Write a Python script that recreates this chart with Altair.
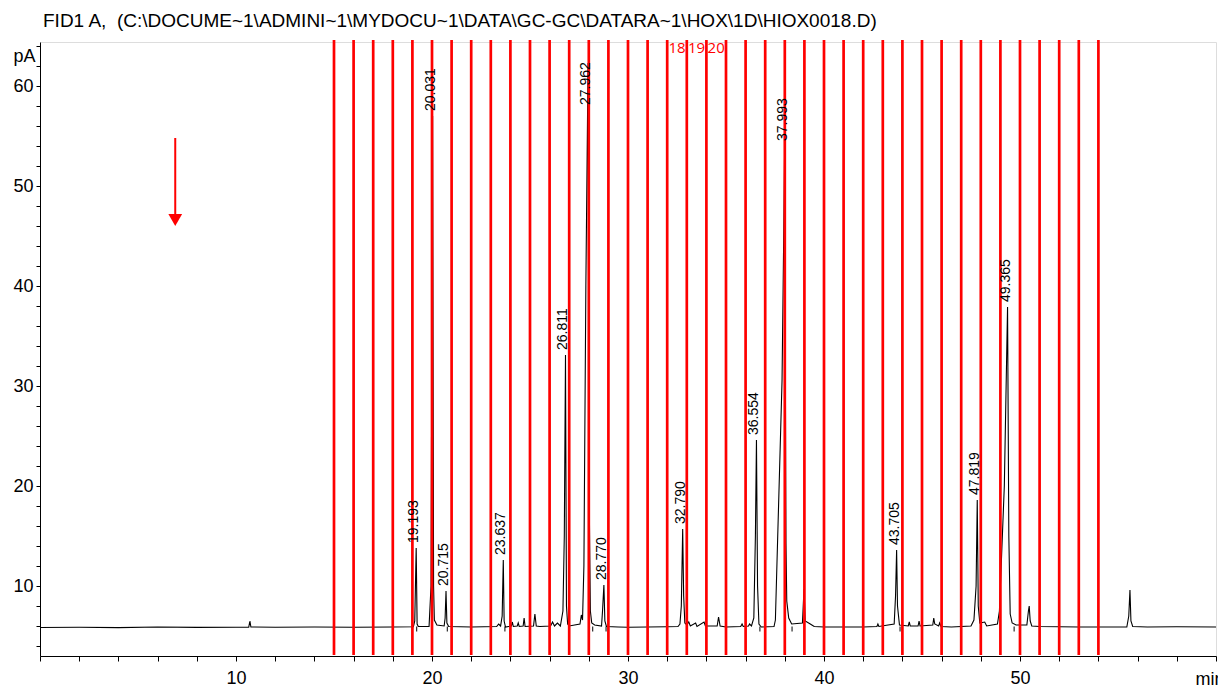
import altair as alt
import pandas as pd

# ---- chromatogram: vertices of the FID trace (time in min, signal in pA) ----
trace_time = [
    0.0, 2.0, 4.0, 6.0, 8.0, 10.0, 10.65, 10.71, 10.76, 12.0, 14.0, 16.0, 18.0,
    19.05, 19.12, 19.24, 19.30, 19.85, 19.95, 20.08, 20.12, 20.25, 20.62, 20.67,
    20.76, 20.85, 22.0, 23.30, 23.40, 23.50, 23.58, 23.68, 23.75, 24.05, 24.10,
    24.15, 24.35, 24.40, 24.45, 24.65, 24.70, 24.75, 25.18, 25.25, 25.32, 25.50,
    26.05, 26.15, 26.25, 26.40, 26.55, 26.68, 26.75, 26.86, 26.92, 27.00, 27.55,
    27.62, 27.68, 27.75, 27.85, 28.00, 28.02, 28.08, 28.15, 28.30, 28.65, 28.70,
    28.82, 28.90, 29.50, 30.0, 31.0, 32.0, 32.55, 32.65, 32.72, 32.84, 32.90,
    33.00, 33.10, 33.18, 33.45, 33.52, 33.88, 33.95, 34.55, 34.62, 34.70, 35.0,
    35.75, 35.82, 35.88, 36.15, 36.20, 36.30, 36.42, 36.50, 36.61, 36.68, 36.80,
    37.45, 37.52, 37.86, 37.95, 38.03, 38.06, 38.10, 38.20, 38.35, 38.90, 38.98,
    39.04, 39.30, 39.50, 40.0, 42.0, 42.70, 42.75, 42.80, 43.58, 43.65, 43.75,
    43.85, 44.30, 44.35, 44.40, 44.80, 44.85, 44.90, 45.55, 45.60, 45.65, 45.85,
    45.90, 45.97, 46.50, 47.50, 47.65, 47.76, 47.87, 47.95, 48.20, 48.30, 48.85,
    48.95, 49.20, 49.43, 49.50, 49.60, 49.80, 50.35, 50.43, 50.47, 50.52, 50.60,
    51.0, 53.0, 55.45, 55.55, 55.61, 55.66, 55.75, 56.5, 58.0, 60.0,
]
trace_pa = [
    5.85, 5.88, 5.84, 5.90, 5.86, 5.88, 5.88, 6.50, 5.90, 5.87, 5.90, 5.88, 5.90,
    5.92, 6.50, 6.20, 5.95, 5.95, 10.0, 10.0, 6.60, 6.10, 6.00, 6.80,
    6.30, 5.95, 5.90, 5.95, 6.20, 6.00, 7.00, 6.50, 5.90, 6.00, 6.40,
    5.95, 6.00, 6.30, 5.95, 6.00, 6.80, 5.95, 6.00, 7.20, 6.00, 5.95,
    6.00, 6.40, 6.00, 6.30, 6.00, 7.50, 15.0, 8.00, 6.20, 6.00, 6.20,
    7.10, 6.60, 12.0, 40.0, 30.0, 18.6, 7.50, 6.30, 6.10, 6.00, 7.50,
    6.50, 5.95, 5.90, 5.88, 5.90, 5.92, 5.95, 6.20, 8.00, 9.00, 6.30,
    6.10, 6.40, 6.00, 6.30, 5.95, 6.40, 6.00, 6.00, 6.90, 6.00, 5.90,
    5.95, 6.20, 5.95, 6.00, 6.20, 6.00, 6.80, 15.0, 10.0, 6.20, 5.90,
    5.95, 6.60, 30.6, 46.0, 30.0, 14.3, 8.50, 6.80, 6.20, 6.30, 9.70,
    6.50, 6.20, 5.95, 5.90, 5.90, 5.95, 6.20, 5.95, 6.20, 9.00, 8.00,
    6.10, 6.00, 6.40, 6.00, 6.00, 6.50, 6.00, 6.10, 6.80, 6.20, 6.00,
    6.30, 5.95, 5.90, 6.00, 6.60, 10.0, 8.00, 6.30, 6.40, 6.00, 6.20,
    7.50, 20.0, 15.0, 7.20, 6.30, 6.10, 6.10, 7.50, 8.00, 6.50, 6.00,
    5.95, 5.90, 5.90, 7.00, 9.60, 6.50, 5.95, 5.90, 5.92, 5.90,
]

# ---- integrated peaks: retention time (min) and apex height (pA) ----
peak_rt = [19.193, 20.031, 20.715, 23.637, 26.811, 27.962, 28.770,
           32.790, 36.554, 37.993, 43.705, 47.819, 49.365]
peak_pa = [13.8, 57.0, 9.5, 12.6, 33.1, 62.3, 10.1,
           15.7, 24.6, 54.0, 13.6, 18.6, 37.9]

# integration event marks below the baseline
event_time = [19.22, 20.78, 23.72, 28.20, 28.88, 36.73, 38.37, 43.88, 49.70]

# fraction collector cuts (min) and the numbered fractions
cut_time = [15, 16, 17, 18, 19, 20, 21, 22, 23, 24, 25, 26, 27, 28, 29, 30,
            31, 32, 33, 34, 35, 36, 37, 38, 39, 40, 41, 42, 43, 44, 45, 46,
            47, 48, 49, 50, 51, 52, 53, 54]
fraction_no = [18, 19, 20]

# injection marker arrow
arrow_time = [6.9]
arrow_top = [54.8]
arrow_tip = [46.0]

title_text = "FID1 A,\u00a0 (C:\\DOCUME~1\\ADMINI~1\\MYDOCU~1\\DATA\\GC-GC\\DATARA~1\\HOX\\1D\\HIOX0018.D)"

FONT = "Liberation Sans, Arial, sans-serif"
W, H = 1176, 614

trace = pd.concat([
    pd.DataFrame({"t": trace_time, "pa": trace_pa}),
    pd.DataFrame({"t": peak_rt, "pa": peak_pa}),
]).sort_values("t").reset_index(drop=True)
trace["order"] = range(len(trace))

peaks = pd.DataFrame({"rt": peak_rt, "pa": peak_pa})
events = pd.DataFrame({"t": event_time})
cuts = pd.DataFrame({"t": cut_time})
fractions = pd.DataFrame({"n": fraction_no})
arrow = pd.DataFrame({"t": arrow_time, "top": arrow_top, "tip": arrow_tip})

xscale = alt.Scale(domain=[0, 60], nice=False, zero=False)
yscale = alt.Scale(domain=[3, 64.4], nice=False, zero=False)

x_axis = alt.Axis(
    values=list(range(0, 61, 2)),
    labelExpr="datum.value % 10 == 0 && datum.value > 0 && datum.value < 60 ? datum.label : ''",
    grid=False, domainColor="black", tickColor="black", tickSize=5,
    labelFont=FONT, labelFontSize=18, labelColor="black", labelBaseline="alphabetic",
    labelPadding=22, labelFlush=False, labelOverlap=False,
    title="min", titleFont=FONT, titleFontSize=18, titleFontWeight="normal",
    titleColor="black", titleX=1155, titleY=28, titleAlign="left",
    titleBaseline="alphabetic",
)
y_axis = alt.Axis(
    values=list(range(4, 65, 2)),
    labelExpr="datum.value % 10 == 0 ? datum.label : ''",
    grid=False, domainColor="black", tickColor="black", tickSize=4,
    labelFont=FONT, labelFontSize=18, labelColor="black", labelPadding=3,
    labelOverlap=False,
    title="pA", titleFont=FONT, titleFontSize=18, titleFontWeight="normal",
    titleColor="black", titleAngle=0, titleAlign="right", titleBaseline="alphabetic",
    titleX=-5, titleY=19,
)

cut_lines = alt.Chart(cuts).mark_rule(color="#ff0000", strokeWidth=2.7).encode(
    x=alt.X("t:Q", scale=xscale, axis=x_axis),
    y=alt.value(-2), y2=alt.value(H - 1),
)

line = alt.Chart(trace).mark_line(color="black", strokeWidth=1.1).encode(
    x=alt.X("t:Q", scale=xscale, axis=x_axis),
    y=alt.Y("pa:Q", scale=yscale, axis=y_axis),
    order="order:Q",
)

event_marks = alt.Chart(events).transform_calculate(
    y0="5.95", y1="5.45"
).mark_rule(color="black", strokeWidth=1).encode(
    x=alt.X("t:Q", scale=xscale, axis=x_axis),
    y=alt.Y("y0:Q", scale=yscale, axis=y_axis),
    y2="y1:Q",
)

# retention-time labels sit above each apex; very tall peaks get the label
# pinned below the top of the frame
peak_labels = alt.Chart(peaks).transform_calculate(
    ly="min(datum.pa, 57.6)"
).mark_text(
    angle=270, align="left", baseline="alphabetic", dx=5, dy=2,
    font=FONT, fontSize=14, color="black",
).encode(
    x=alt.X("rt:Q", scale=xscale, axis=x_axis),
    y=alt.Y("ly:Q", scale=yscale, axis=y_axis),
    text=alt.Text("rt:Q", format=".3f"),
)

fraction_labels = alt.Chart(fractions).transform_calculate(
    t="datum.n + 14.5"
).mark_text(
    font="Open Sans, Noto Sans, sans-serif", fontSize=15, color="#ff0000",
    baseline="middle", align="center",
).encode(
    x=alt.X("t:Q", scale=xscale, axis=x_axis),
    y=alt.value(6),
    text="n:Q",
)

arrow_shaft = alt.Chart(arrow).transform_calculate(
    end="datum.tip + 1.1"
).mark_rule(color="#ff0000", strokeWidth=2).encode(
    x=alt.X("t:Q", scale=xscale, axis=x_axis),
    y=alt.Y("top:Q", scale=yscale, axis=y_axis),
    y2="end:Q",
)

arrow_head = alt.Chart(arrow).transform_calculate(
    c="datum.tip + 0.6"
).mark_point(
    shape="triangle-down", filled=True, color="#ff0000", size=190, opacity=1,
).encode(
    x=alt.X("t:Q", scale=xscale, axis=x_axis),
    y=alt.Y("c:Q", scale=yscale, axis=y_axis),
)

title = alt.Chart(pd.DataFrame({"s": [title_text]})).mark_text(
    font=FONT, fontSize=19, color="black", align="left", baseline="alphabetic",
).encode(
    x=alt.value(3), y=alt.value(-15), text="s:N",
)

chart = alt.layer(
    line, event_marks, cut_lines, peak_labels, fraction_labels,
    arrow_shaft, arrow_head, title,
).properties(
    width=W, height=H,
    padding={"left": 40, "top": 42, "right": 2, "bottom": 30},
    autosize=alt.AutoSizeParams(type="none"),
).configure_view(stroke=None).configure_axis(
    labelOverlap=False, grid=False
).configure(background="white")

chart.save("out.html", embed_options={"renderer": "svg", "actions": False})
